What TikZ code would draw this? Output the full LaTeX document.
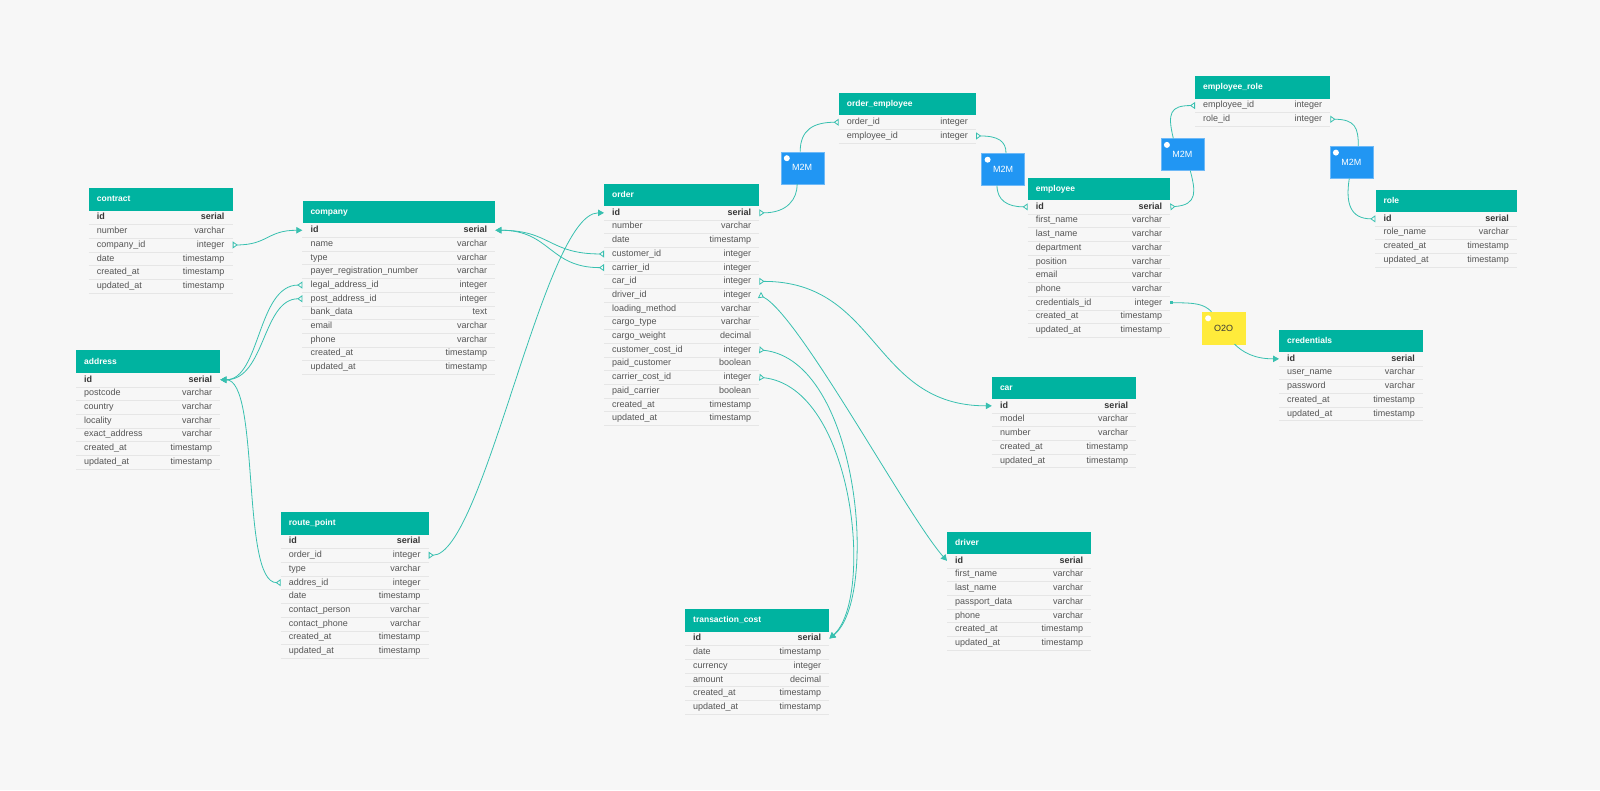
\documentclass[tikz,border=0pt]{standalone}
\usepackage{fontspec}
\setmainfont{Liberation Sans}
\usetikzlibrary{arrows.meta}

\definecolor{bgcol}{RGB}{247,247,247}
\definecolor{headcol}{RGB}{0,179,160}
\definecolor{linkcol}{RGB}{56,192,176}
\definecolor{rowtext}{RGB}{85,85,85}
\definecolor{pktext}{RGB}{55,55,55}
\definecolor{rulecol}{RGB}{230,230,230}
\definecolor{m2mfill}{RGB}{33,150,243}
\definecolor{m2mline}{RGB}{110,185,247}
\definecolor{o2ofill}{RGB}{255,235,59}

\catcode`\_=12

% table: name, x, y, width, rows
\newcommand{\dbtable}[5]{%
  \node[tablehead, minimum width=#4pt, anchor=north west] (#1) at (#2,#3)
    {\makebox[\dimexpr#4pt-16pt\relax][l]{#1}};
  \foreach \fname/\ftype [count=\i] in {#5} {
    \node[tablerow, minimum width=#4pt, anchor=north west] (#1-\fname) at (#2,{#3+22.5+(\i-1)*13.7})
      {\makebox[\dimexpr#4pt-16pt\relax]{\ifnum\strcmp{\fname}{id}=0 \bfseries\color{pktext}\fi\fname\hfill\ftype}};
    \draw[rowrule] (#1-\fname.south west) -- (#1-\fname.south east);
  }
}

\begin{document}
\begin{tikzpicture}[x=1pt, y=-1pt,
    crow/.tip={Triangle[open,reversed,length=5pt,width=7pt]},
    pkey/.tip={Triangle[length=6pt,width=6.5pt]},
    onekey/.tip={Square[length=2.5pt,width=3pt]}]
        \tikzstyle{tablehead}=[fill=headcol, text=white, inner xsep=8pt, inner ysep=0pt,
            minimum height=22.5pt, text height=6.5pt, text depth=1.8pt,
            font=\fontsize{8.5}{10}\selectfont\bfseries]
        \tikzstyle{tablerow}=[inner xsep=8pt, inner ysep=0pt, minimum height=13.7pt,
            text height=6.6pt, text depth=1.9pt, text=rowtext, font=\fontsize{9}{10}\selectfont]
        \tikzstyle{rowrule}=[draw=rulecol, line width=0.6pt]
        \tikzstyle{m2m}=[draw=m2mline, fill=m2mfill, text=white, minimum width=43pt,
            minimum height=32pt, inner sep=0pt, font=\fontsize{9}{10}\selectfont]
        \tikzstyle{link}=[draw=linkcol, line width=0.8pt]

        \useasboundingbox (0,0) rectangle (1600,790);
        \fill[bgcol] (0,0) rectangle (1600,790);

        % tables
        \dbtable{contract}{88.7}{188}{143.6}{id/serial,number/varchar,company_id/integer,date/timestamp,created_at/timestamp,updated_at/timestamp}
        \dbtable{company}{302.3}{200.7}{192.7}{id/serial,name/varchar,type/varchar,payer_registration_number/varchar,legal_address_id/integer,post_address_id/integer,bank_data/text,email/varchar,phone/varchar,created_at/timestamp,updated_at/timestamp}
        \dbtable{address}{76}{350.2}{144}{id/serial,postcode/varchar,country/varchar,locality/varchar,exact_address/varchar,created_at/timestamp,updated_at/timestamp}
        \dbtable{route_point}{280.7}{512}{147.6}{id/serial,order_id/integer,type/varchar,addres_id/integer,date/timestamp,contact_person/varchar,contact_phone/varchar,created_at/timestamp,updated_at/timestamp}
        \dbtable{order}{604}{183.3}{155}{id/serial,number/varchar,date/timestamp,customer_id/integer,carrier_id/integer,car_id/integer,driver_id/integer,loading_method/varchar,cargo_type/varchar,cargo_weight/decimal,customer_cost_id/integer,paid_customer/boolean,carrier_cost_id/integer,paid_carrier/boolean,created_at/timestamp,updated_at/timestamp}
        \dbtable{order_employee}{838.7}{92.7}{137}{order_id/integer,employee_id/integer}
        \dbtable{employee_role}{1195}{76}{135}{employee_id/integer,role_id/integer}
        \dbtable{employee}{1027.7}{177.3}{142.3}{id/serial,first_name/varchar,last_name/varchar,department/varchar,position/varchar,email/varchar,phone/varchar,credentials_id/integer,created_at/timestamp,updated_at/timestamp}
        \dbtable{role}{1375.3}{189.3}{141.4}{id/serial,role_name/varchar,created_at/timestamp,updated_at/timestamp}
        \dbtable{credentials}{1279}{329.3}{143.7}{id/serial,user_name/varchar,password/varchar,created_at/timestamp,updated_at/timestamp}
        \dbtable{car}{991.8}{376.3}{144}{id/serial,model/varchar,number/varchar,created_at/timestamp,updated_at/timestamp}
        \dbtable{driver}{947}{531.3}{144}{id/serial,first_name/varchar,last_name/varchar,passport_data/varchar,phone/varchar,created_at/timestamp,updated_at/timestamp}
        \dbtable{transaction_cost}{685}{609}{144}{id/serial,date/timestamp,currency/integer,amount/decimal,created_at/timestamp,updated_at/timestamp}

        % relation boxes
        \node[m2m](m2mA) at (802.2,167.8){M2M};
        \node[m2m](m2mB) at (1003,169.3){M2M};
        \node[m2m](m2mC) at (1182.3,154.5){M2M};
        \node[m2m](m2mD) at (1351.3,162.2){M2M};
        \node[m2m, fill=o2ofill, draw=o2ofill, text=pktext](o2o) at (1223.5,327.9){O2O};
        \foreach \b in {m2mA,m2mB,m2mC,m2mD,o2o}
            \fill[white] ([shift={(6.3,6.6)}]\b.north west) circle (3pt);

        % foreign keys
        \draw[link, crow-pkey] (contract-company_id.east) .. controls +(35,0) and +(-35,0) .. (company-id.west);
        \draw[link, crow-pkey] (company-legal_address_id.west) .. controls +(-45,0) and +(40,0) .. (address-id.east);
        \draw[link, crow-pkey] (company-post_address_id.west) .. controls +(-40,0) and +(45,0) .. (address-id.east);
        \draw[link, crow-pkey] (route_point-addres_id.west) .. controls +(-40,0) and +(40,0) .. (address-id.east);
        \draw[link, crow-pkey] (route_point-order_id.east) .. controls +(55,0) and +(-60,0) .. (order-id.west);
        \draw[link, crow-pkey] (order-customer_id.west) .. controls +(-55,0) and +(55,0) .. (company-id.east);
        \draw[link, crow-pkey] (order-carrier_id.west) .. controls +(-55,0) and +(55,0) .. (company-id.east);
        \draw[link, crow-pkey] (order-car_id.east) .. controls +(120,0) and +(-120,0) .. (car-id.west);
        \draw[link, crow-pkey] (order-driver_id.east) .. controls +(40,20) and +(-40,-45) .. (driver-id.west);
        \draw[link, crow-pkey] (order-customer_cost_id.east) .. controls +(100,10) and +(50,-40) .. (transaction_cost-id.east);
        \draw[link, crow-pkey] (order-carrier_cost_id.east) .. controls +(95,10) and +(45,-40) .. (transaction_cost-id.east);

        % many to many, one to one
        \draw[link, crow-] (order-id.east) .. controls +(28,0) and +(0,15) .. ([xshift=-5pt]m2mA.south);
        \draw[link, -crow] ([xshift=-2pt]m2mA.north) .. controls +(0,-22) and +(-25,0) .. (order_employee-order_id.west);
        \draw[link, crow-] (order_employee-employee_id.east) .. controls +(22,0) and +(0,-12) .. ([xshift=3pt]m2mB.north);
        \draw[link, -crow] ([xshift=-6pt]m2mB.south) .. controls +(0,15) and +(-20,0) .. (employee-id.west);
        \draw[link, crow-] (employee-id.east) .. controls +(28,-2) and +(5,20) .. ([xshift=8pt]m2mC.south);
        \draw[link, -crow] ([xshift=-9pt]m2mC.north) .. controls +(-6,-25) and +(-25,0) .. (employee_role-employee_id.west);
        \draw[link, crow-] (employee_role-role_id.east) .. controls +(25,0) and +(0,-18) .. ([xshift=7pt]m2mD.north);
        \draw[link, -crow] ([xshift=-2pt]m2mD.south) .. controls +(-4,25) and +(-25,0) .. (role-id.west);
        \draw[link, onekey-] (employee-credentials_id.east) .. controls +(25,0) and +(-8,-8) .. ([xshift=-12pt]o2o.north);
        \draw[link, -pkey] ([xshift=11pt]o2o.south) .. controls +(8,8) and +(-25,0) .. (credentials-id.west);

\end{tikzpicture}
\end{document}
